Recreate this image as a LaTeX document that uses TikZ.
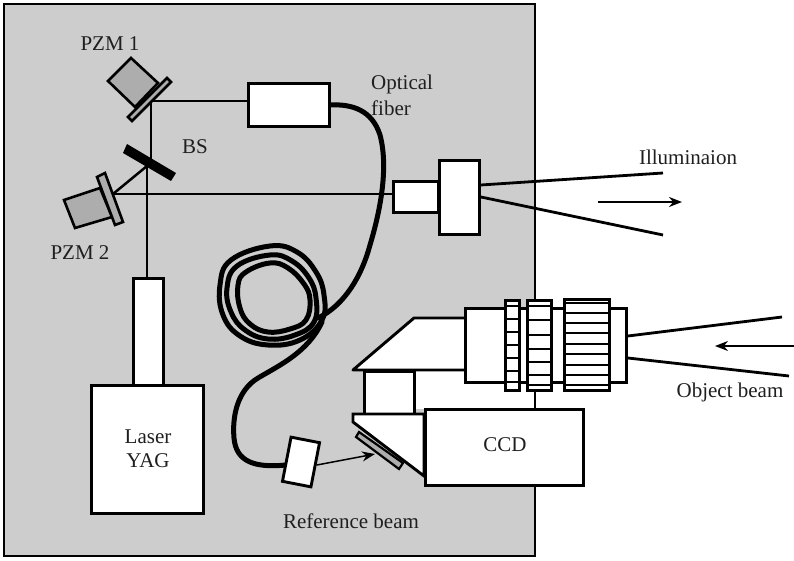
\documentclass[tikz,border=0pt]{standalone}
\usepackage{fontspec}
\setmainfont{Liberation Serif}
\usetikzlibrary{arrows.meta,calc}
\definecolor{panel}{HTML}{CDCDCD}
\definecolor{part}{HTML}{ADADAD}
\tikzset{
  lbl/.style={font=\fontsize{21}{25}\selectfont,text=black!88,inner sep=0pt,align=center},
  wbox/.style={draw=black,line width=2.9pt,fill=white,line join=miter},
  gpart/.style={draw=black,line width=2.6pt,fill=part},
  beam/.style={draw=black,line width=2.5pt},
  fib/.style={draw=black,line width=5pt,line cap=round,line join=round},
  ray/.style={draw=black,line width=1.8pt,-{Stealth[length=13pt,width=10pt]}},
  rays/.style={draw=black,line width=2.8pt},
  band/.style={draw=black,line width=2.2pt}
}
\begin{document}
\begin{tikzpicture}[x=1pt,y=-1pt]
\useasboundingbox (0,0) rectangle (794,561);
\fill[white] (0,0) rectangle (794,561);
\draw[fill=panel,draw=black,line width=2.4pt] (4,4) rectangle (535,556);
% beams
\coordinate (m1) at (151,101);
\coordinate (bsr) at (151,165);
\coordinate (bsc) at (147,166);
\coordinate (m2) at (113,194);
% boxes
\node[wbox,anchor=north west,minimum width=81pt,minimum height=43pt,inner sep=0pt] (coupler) at (247,82) {};
\node[wbox,anchor=north west,minimum width=45pt,minimum height=31pt,inner sep=0pt] (illumA) at (392,180) {};
\node[wbox,anchor=north west,minimum width=40pt,minimum height=74pt,inner sep=0pt] (illumB) at (438,159) {};
\node[wbox,anchor=north west,minimum width=30pt,minimum height=107pt,inner sep=0pt] (tube) at (132,277) {};
\node[wbox,anchor=north west,minimum width=112pt,minimum height=128pt,inner sep=0pt] (laser) at (90,384) {};
\draw[beam] (m1) -- (coupler.west |- m1);
\draw[beam] (m1) -- (bsr);
\draw[beam] (bsc) -- (tube.north -| bsc);
\draw[beam] (bsc) -- (m2);
\draw[beam] (m2) -- (illumA.west |- m2);
% PZM1
\draw[gpart,line join=miter] (131,58) -- (158,83) -- (135,107) -- (108,81) -- cycle;
\draw[gpart] (167,78) -- (171,82) -- (132,121) -- (128,117) -- cycle;
% BS
\fill[black] (127,144) -- (176,173) -- (171,181) -- (123,153) -- cycle;
% PZM2
\draw[gpart] (64,200) -- (100,188) -- (112,217) -- (75,228) -- cycle;
\draw[gpart] (105,173) -- (123,222) -- (115,225) -- (97,177) -- cycle;
% illumination rays
\coordinate (i1) at (663,173);
\coordinate (i2) at (663,235);
\draw[rays] (illumB.east |- 0,185) -- (i1);
\draw[rays] (illumB.east |- 0,197) -- (i2);
\coordinate (ia) at (598,202); \coordinate (ib) at (682,202);
\draw[ray] (ia) -- (ib);
% fibre
\draw[fib] (coupler.east) .. controls (352,104) and (372,110) .. (380,135)
  .. controls (388,165) and (382,205) .. (370,245)
  .. controls (362,275) and (345,305) .. (318,318);
\draw[fib] plot[smooth cycle,tension=0.7] coordinates {(270,246) (297,252) (316,272) (324,295) (322,320) (300,340) (268,345) (240,336) (223,315) (220,285) (231,260)};
\draw[fib] plot[smooth cycle,tension=0.7] coordinates {(270,255) (292,261) (309,278) (316,298) (314,322) (295,335) (268,339) (245,330) (231,312) (227,288) (237,266)};
\draw[fib] plot[smooth cycle,tension=0.7] coordinates {(270,263) (288,268) (304,284) (310,300) (306,320) (290,329) (268,332) (250,324) (240,308) (238,285) (246,272)};
\draw[fib] (322,322) .. controls (308,352) and (280,365) .. (258,378)
  .. controls (238,390) and (232,415) .. (234,438)
  .. controls (236,462) and (255,468) .. (286,465);
% reference beam block
\node[wbox,rotate=-11,minimum width=29pt,minimum height=45pt,inner sep=0pt] (refbox) at (301,462) {};
\coordinate (plateHit) at (375,454);
\draw[draw=black,line width=1.5pt,-{Stealth[length=13pt,width=10pt]}] (refbox.east) -- (plateHit);
% camera
\fill[white] (413,370) rectangle (533.8,409);
\draw[wbox,line join=round] (464,370) -- (353,370) -- (414,318) -- (464,318);
\node[wbox,anchor=north west,minimum width=161pt,minimum height=74pt,inner sep=0pt] (body) at (464,307) {};
\node[wbox,anchor=north west,minimum width=50pt,minimum height=44pt,inner sep=0pt] (prism) at (363,370) {};
\path[wbox] (353,414) -- (424,414) -- (424,476) -- (353,422) -- cycle;
\node[wbox,anchor=north west,minimum width=158pt,minimum height=76pt,inner sep=0pt] (ccd) at (424,408) {};
\draw[gpart,line width=2.2pt] (359,432) -- (403,463) -- (399,469) -- (356,437) -- cycle;
% lens rings
\node[wbox,anchor=north west,minimum width=14pt,minimum height=90pt,inner sep=0pt] (ringA) at (504,299) {};
\node[wbox,anchor=north west,minimum width=24pt,minimum height=90pt,inner sep=0pt] (ringB) at (526,299) {};
\node[wbox,anchor=north west,minimum width=45pt,minimum height=91pt,inner sep=0pt] (ringC) at (563,298) {};
\foreach \y in {306,319,332,345,358,371,382} \draw[band] (ringA.west |- 0,\y) -- (ringA.east |- 0,\y);
\foreach \y in {306,320,335,349,362,375,385} \draw[band] (ringB.west |- 0,\y) -- (ringB.east |- 0,\y);
\foreach \y in {303,313,323,333,344,354,365,375,385} \draw[band] (ringC.west |- 0,\y) -- (ringC.east |- 0,\y);
% object beam
\coordinate (o1) at (782,317); \coordinate (o2) at (789,376);
\draw[rays] (body.east |- 0,336) -- (o1);
\draw[rays] (body.east |- 0,358) -- (o2);
\coordinate (oa) at (794,346); \coordinate (ob) at (715,346);
\draw[ray] (oa) -- (ob);
% labels
\node[lbl] (t1) at (110,44) {PZM 1};
\node[lbl] (t2) at (80,253) {PZM 2};
\node[lbl] (t3) at (195,147) {BS};
\node[lbl,anchor=west] (t4) at (371,84) {Optical};
\node[lbl,anchor=west] (t5) at (371,108) {fiber};
\node[lbl] (t6) at (688,157) {Illuminaion};
\node[lbl] (t7) at (730,392) {Object beam};
\node[lbl] (t8) at (351,521) {Reference beam};
\node[lbl] (t9) at (148,437) {Laser};
\node[lbl] (t10) at (148,461) {YAG};
\node[lbl] (t11) at (505,445) {CCD};
\end{tikzpicture}
\end{document}
